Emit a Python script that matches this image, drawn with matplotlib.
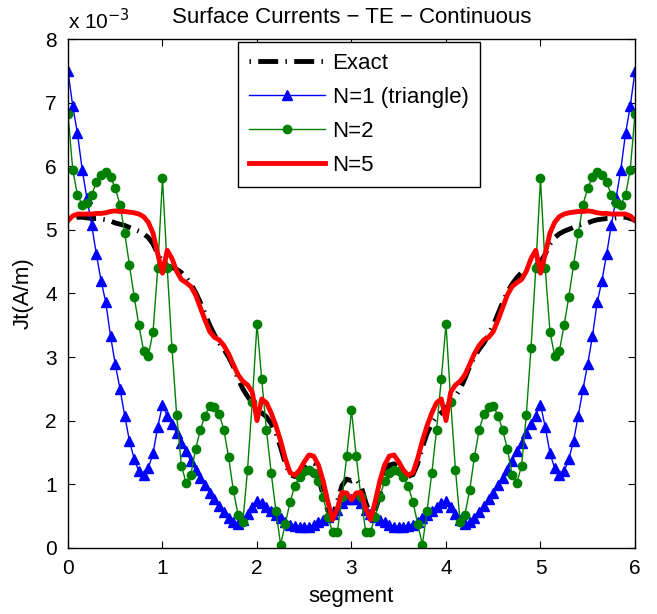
"""Surface currents (TE, continuous) - comparaison Exact / N=1 / N=2 / N=5."""

import matplotlib

matplotlib.use("Agg")

import matplotlib.pyplot as plt  # noqa: E402
import numpy as np  # noqa: E402

plt.rcParams["font.family"] = ["Liberation Sans", "DejaVu Sans"]

# Abscisse "segment" : 121 points de 0 a 6 (pas 0.05).
segment = np.linspace(0.0, 6.0, 121)

# Valeurs en unites de 1e-3 A/m.
jt_exact = [
    5.15, 5.18, 5.20, 5.20, 5.19, 5.18, 5.18, 5.17, 5.16, 5.14,
    5.11, 5.09, 5.07, 5.04, 5.01, 4.98, 4.94, 4.88, 4.78, 4.62,
    4.50, 4.44, 4.41, 4.38, 4.33, 4.25, 4.15, 4.02, 3.86, 3.68,
    3.50, 3.35, 3.22, 3.12, 3.00, 2.85, 2.66, 2.50, 2.38, 2.28,
    2.20, 2.12, 2.06, 1.95, 1.80, 1.58, 1.32, 1.15, 1.12, 1.16,
    1.24, 1.32, 1.30, 1.12, 0.82, 0.58, 0.50, 0.72, 0.98, 1.08,
    1.05,
    1.08, 0.98, 0.72, 0.50, 0.58, 0.82, 1.12, 1.30, 1.32, 1.24,
    1.16, 1.12, 1.15, 1.32, 1.58, 1.80, 1.95, 2.06, 2.12, 2.20,
    2.28, 2.38, 2.50, 2.66, 2.85, 3.00, 3.12, 3.22, 3.35, 3.50,
    3.68, 3.86, 4.02, 4.15, 4.25, 4.33, 4.38, 4.41, 4.44, 4.50,
    4.62, 4.78, 4.88, 4.94, 4.98, 5.01, 5.04, 5.07, 5.09, 5.11,
    5.14, 5.16, 5.17, 5.18, 5.18, 5.19, 5.20, 5.20, 5.18, 5.15,
]

jt_n1 = [
    7.50, 6.95, 6.52, 5.95, 5.50, 5.08, 4.62, 4.20, 3.86, 3.33,
    2.89, 2.50, 2.08, 1.68, 1.40, 1.20, 1.15, 1.25, 1.49, 1.90,
    2.25, 2.08, 1.95, 1.80, 1.65, 1.52, 1.36, 1.22, 1.10, 0.98,
    0.86, 0.76, 0.66, 0.56, 0.47, 0.41, 0.38, 0.44, 0.53, 0.64,
    0.74, 0.70, 0.64, 0.58, 0.52, 0.46, 0.40, 0.36, 0.34, 0.33,
    0.32, 0.33, 0.35, 0.40, 0.44, 0.48, 0.53, 0.60, 0.70, 0.76,
    0.77,
    0.76, 0.70, 0.60, 0.53, 0.48, 0.44, 0.40, 0.35, 0.33, 0.32,
    0.33, 0.34, 0.36, 0.40, 0.46, 0.52, 0.58, 0.64, 0.70, 0.74,
    0.64, 0.53, 0.44, 0.38, 0.41, 0.47, 0.56, 0.66, 0.76, 0.86,
    0.98, 1.10, 1.22, 1.36, 1.52, 1.65, 1.80, 1.95, 2.08, 2.25,
    1.90, 1.49, 1.25, 1.15, 1.20, 1.40, 1.68, 2.08, 2.50, 2.89,
    3.33, 3.86, 4.20, 4.62, 5.08, 5.50, 5.95, 6.52, 6.95, 7.50,
]

jt_n2 = [
    6.82, 5.95, 5.55, 5.40, 5.42, 5.55, 5.75, 5.87, 5.91, 5.83,
    5.66, 5.40, 4.95, 4.45, 3.95, 3.50, 3.10, 3.02, 3.40, 4.40,
    5.81, 4.40, 3.15, 2.09, 1.29, 1.02, 1.15, 1.55, 1.85, 2.08,
    2.23, 2.22, 2.10, 1.85, 1.42, 0.90, 0.52, 0.40, 1.23, 2.30,
    3.52, 2.65, 1.85, 1.18, 0.58, 0.05, 0.38, 0.72, 0.97, 1.12,
    1.20, 1.22, 1.18, 1.05, 0.80, 0.48, 0.25, 0.25, 0.80, 1.44,
    2.16,
    1.44, 0.80, 0.25, 0.25, 0.48, 0.80, 1.05, 1.18, 1.22, 1.20,
    1.12, 0.97, 0.72, 0.38, 0.05, 0.58, 1.18, 1.85, 2.65, 3.52,
    2.30, 1.23, 0.40, 0.52, 0.90, 1.42, 1.85, 2.10, 2.22, 2.23,
    2.08, 1.85, 1.55, 1.15, 1.02, 1.29, 2.09, 3.15, 4.40, 5.81,
    4.40, 3.40, 3.02, 3.10, 3.50, 3.95, 4.45, 4.95, 5.40, 5.66,
    5.83, 5.91, 5.87, 5.75, 5.55, 5.42, 5.40, 5.55, 5.95, 6.82,
]

jt_n5 = [
    5.15, 5.22, 5.25, 5.25, 5.25, 5.25, 5.26, 5.26, 5.27, 5.29,
    5.30, 5.29, 5.29, 5.28, 5.27, 5.25, 5.21, 5.12, 4.95, 4.62,
    4.32, 4.68, 4.55, 4.35, 4.22, 4.17, 4.11, 3.98, 3.78, 3.58,
    3.40, 3.31, 3.27, 3.18, 3.05, 2.88, 2.72, 2.62, 2.56, 2.45,
    2.00, 2.34, 2.28, 2.12, 1.92, 1.68, 1.40, 1.18, 1.14, 1.22,
    1.35, 1.46, 1.44, 1.30, 1.05, 0.72, 0.44, 0.62, 0.87, 0.86,
    0.75,
    0.86, 0.87, 0.62, 0.44, 0.72, 1.05, 1.30, 1.44, 1.46, 1.35,
    1.22, 1.14, 1.18, 1.40, 1.68, 1.92, 2.12, 2.28, 2.34, 2.00,
    2.45, 2.56, 2.62, 2.72, 2.88, 3.05, 3.18, 3.27, 3.31, 3.40,
    3.58, 3.78, 3.98, 4.11, 4.17, 4.22, 4.35, 4.55, 4.68, 4.32,
    4.62, 4.95, 5.12, 5.21, 5.25, 5.27, 5.28, 5.29, 5.29, 5.30,
    5.29, 5.27, 5.26, 5.26, 5.25, 5.25, 5.25, 5.25, 5.22, 5.15,
]

labels = ["Exact", "N=1 (triangle)", "N=2", "N=5"]
x_ticks = [0, 1, 2, 3, 4, 5, 6]
y_ticks = [0, 1, 2, 3, 4, 5, 6, 7, 8]

fig = plt.figure(figsize=(6.57, 6.14), dpi=100)
ax = fig.add_axes([0.1035, 0.108, 0.863, 0.828])

# Trait mixte type MATLAB '-.' : commence par le point.
ax.plot(segment, jt_exact, color="black", lw=3.5,
        linestyle=(5.6, (4.1, 1.5, 0.3, 1.5)), label=labels[0])
ax.plot(segment, jt_n1, color="#0000ff", lw=1.0, marker="^",
        markersize=6.5, label=labels[1])
ax.plot(segment, jt_n2, color="#008000", lw=1.0, marker="o",
        markersize=6, label=labels[2])
ax.plot(segment, jt_n5, color="#ff0000", lw=3.5, solid_joinstyle="round",
        label=labels[3])

ax.set_xlim(0, 6)
ax.set_ylim(0, 8)
ax.set_xticks(x_ticks)
ax.set_yticks(y_ticks)
ax.tick_params(direction="in", top=True, right=True, length=5,
               labelsize=15, width=0.8, pad=8)
for side in ax.spines.values():
    side.set_linewidth(1.0)

ax.set_xlabel("segment", fontsize=16, labelpad=6)
ax.set_ylabel("Jt(A/m)", fontsize=16, labelpad=8)
ax.set_title("Surface Currents \u2212 TE \u2212 Continuous", fontsize=16, pad=12)
ax.text(0.0, 1.012, "x 10$^{-3}$", transform=ax.transAxes, fontsize=15,
        ha="left", va="bottom")

leg = ax.legend(loc="upper left", bbox_to_anchor=(0.30, 0.995),
                borderaxespad=0, fancybox=False, framealpha=1,
                edgecolor="black", fontsize=16, handlelength=3.4,
                handletextpad=0.35, labelspacing=0.58, borderpad=0.5)
leg.get_frame().set_linewidth(1.0)

fig.savefig("out.png", dpi=100)
plt.close(fig)
